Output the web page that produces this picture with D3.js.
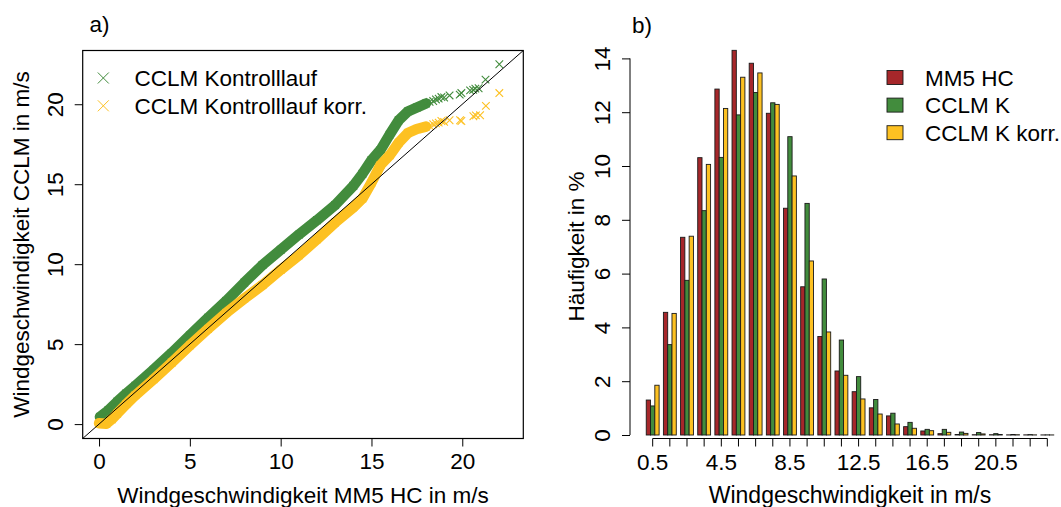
<!DOCTYPE html>
<html>
<head>
<meta charset="utf-8">
<script src="https://cdn.jsdelivr.net/npm/d3@7"></script>
<style>
  html, body { margin: 0; padding: 0; background: #ffffff; }
  svg { display: block; }
  text { font-family: "Liberation Sans", Arial, Helvetica, sans-serif; fill: #000; }
</style>
</head>
<body>
<svg id="chart" width="1061" height="507"></svg>
<script>
// ---------------- Panel a) data : QQ plot ----------------
const qqTicks = [0, 5, 10, 15, 20];
const greenDenseX = [0.05, 0.5, 1.0, 1.5, 2.0, 3.0, 4.0, 5.0, 6.0, 7.0, 8.0, 9.0, 10.0, 11.0, 12.0, 13.0, 14.0, 14.5, 15.0, 15.5, 16.0, 16.5, 17.0, 17.5, 18.0];
const greenDenseY = [0.45, 0.85, 1.4, 1.92, 2.4, 3.4, 4.45, 5.55, 6.65, 7.7, 8.85, 9.95, 10.9, 11.85, 12.75, 13.7, 14.9, 15.65, 16.5, 17.15, 18.1, 19.0, 19.55, 19.8, 20.05];
const greenTailX = [18.2, 18.4, 18.55, 18.7, 18.85, 19.0, 19.3, 19.86, 19.95, 20.43, 20.6, 20.72, 20.9, 21.28, 22.04];
const greenTailY = [20.15, 20.2, 20.3, 20.35, 20.45, 20.42, 20.55, 20.6, 20.7, 20.87, 20.9, 20.98, 21.0, 21.54, 22.5];
const yellowDenseX = [0.0, 0.4, 0.7, 1.0, 1.5, 2.0, 3.0, 4.0, 5.0, 6.0, 7.0, 8.0, 9.0, 10.0, 11.0, 12.0, 13.0, 14.0, 14.5, 15.0, 15.5, 16.0, 16.5, 17.0, 17.5, 18.0];
const yellowDenseY = [0.05, 0.02, 0.3, 0.65, 1.25, 1.8, 2.8, 3.85, 4.92, 5.95, 6.95, 7.85, 8.7, 9.65, 10.55, 11.55, 12.6, 13.55, 14.1, 15.1, 16.2, 16.8, 17.6, 18.2, 18.45, 18.6];
const yellowTailX = [18.2, 18.4, 18.55, 18.7, 18.85, 19.0, 19.3, 19.88, 19.95, 20.61, 20.75, 20.98, 21.3, 22.04];
const yellowTailY = [18.65, 18.75, 18.8, 18.85, 18.95, 18.9, 19.0, 19.0, 18.95, 19.25, 19.3, 19.31, 19.9, 20.7];
const qqLegend = ["CCLM Kontrolllauf", "CCLM Kontrolllauf korr."];

// ---------------- Panel b) data : histogram ----------------
const categories = ["0.5","1.5","2.5","3.5","4.5","5.5","6.5","7.5","8.5","9.5","10.5","11.5","12.5","13.5","14.5","15.5","16.5","17.5","18.5","19.5","20.5","21.5","22.5","23.5"];
const tickLabels = ["0.5", "4.5", "8.5", "12.5", "16.5", "20.5"];
const seriesNames = ["MM5 HC", "CCLM K", "CCLM K korr."];
const mm5 =   [1.30, 4.56, 7.35, 10.31, 12.86, 14.30, 13.82, 11.96, 8.43, 5.51, 3.66, 2.38, 1.61, 1.01, 0.71, 0.31, 0.15, 0.05, 0.02, 0.01, 0.01, 0.005, 0.005, 0.003];
const cclm =  [1.08, 3.36, 5.75, 8.34, 10.32, 11.90, 12.73, 12.35, 11.09, 8.61, 5.80, 3.53, 2.17, 1.32, 0.81, 0.47, 0.21, 0.21, 0.11, 0.09, 0.05, 0.02, 0.015, 0.005];
const cclmK = [1.85, 4.52, 7.39, 10.06, 12.14, 13.30, 13.46, 12.29, 9.63, 6.47, 3.83, 2.22, 1.34, 0.78, 0.41, 0.25, 0.16, 0.10, 0.06, 0.04, 0.02, 0.01, 0.005, 0.003];
const histTicks = [0, 2, 4, 6, 8, 10, 12, 14];

const colRed = "#a6272a", colGreen = "#428c3d", colYellow = "#fdc122";
const FS = "22.5px";

const svg = d3.select("#chart");
svg.append("rect").attr("width", 1061).attr("height", 507).attr("fill", "#fff");

// =============== Panel a ===============
const xL = d3.scaleLinear().domain([-0.9, 23.36]).range([82.7, 523.3]);
const yL = d3.scaleLinear().domain([-0.9, 23.36]).range([438.5, 50.5]);

const gA = svg.append("g");
svg.append("clipPath").attr("id", "clipA").append("rect")
  .attr("x", 82.7).attr("y", 50.5).attr("width", 440.6).attr("height", 388);
const plotA = gA.append("g").attr("clip-path", "url(#clipA)");

function zip(xs, ys) { return xs.map((x, i) => [x, ys[i]]); }
const line = d3.line().x(d => xL(d[0])).y(d => yL(d[1]));
const cross = (s) => `M${-s},${-s}L${s},${s}M${-s},${s}L${s},${-s}`;

function drawSeries(denseX, denseY, tailX, tailY, col) {
  const dense = zip(denseX, denseY);
  const tail = zip(tailX, tailY);
  plotA.append("path").datum(dense).attr("d", line)
    .attr("fill", "none").attr("stroke", col).attr("stroke-width", 10.5)
    .attr("stroke-linejoin", "round").attr("stroke-linecap", "round");
  plotA.append("g").selectAll("path").data(dense.concat(tail)).join("path")
    .attr("transform", d => `translate(${xL(d[0])},${yL(d[1])})`)
    .attr("d", cross(3.8)).attr("stroke", col).attr("stroke-width", 1.1).attr("fill", "none");
}
drawSeries(greenDenseX, greenDenseY, greenTailX, greenTailY, colGreen);
drawSeries(yellowDenseX, yellowDenseY, yellowTailX, yellowTailY, colYellow);

// diagonal y = x
plotA.append("line")
  .attr("x1", xL(-0.9)).attr("y1", yL(-0.9)).attr("x2", xL(23.36)).attr("y2", yL(23.36))
  .attr("stroke", "#000").attr("stroke-width", 1);

// box
gA.append("rect").attr("x", 82.7).attr("y", 50.5).attr("width", 440.6).attr("height", 388)
  .attr("fill", "none").attr("stroke", "#000").attr("stroke-width", 1.2);

// axes
const axXA = gA.append("g").attr("transform", "translate(0,438.5)")
  .call(d3.axisBottom(xL).tickValues(qqTicks).tickSize(8).tickSizeOuter(0).tickFormat(d3.format("d")));
axXA.select(".domain").remove();
axXA.selectAll("text").attr("y", 30.5).attr("dy", null).style("font-size", FS).attr("fill", "#000");

const axYA = gA.append("g").attr("transform", "translate(82.7,0)")
  .call(d3.axisLeft(yL).tickValues(qqTicks).tickSize(8).tickSizeOuter(0).tickFormat(d3.format("d")));
axYA.select(".domain").remove();
axYA.selectAll("text").attr("x", null).attr("dy", null)
  .attr("transform", "translate(-19.5,0) rotate(-90)")
  .attr("text-anchor", "middle").style("font-size", FS).attr("fill", "#000");

gA.append("text").attr("x", 303).attr("y", 503).attr("text-anchor", "middle")
  .style("font-size", FS).text("Windgeschwindigkeit MM5 HC in m/s");
gA.append("text").attr("transform", "translate(28.5,244.5) rotate(-90)").attr("text-anchor", "middle")
  .style("font-size", FS).text("Windgeschwindigkeit CCLM in m/s");
gA.append("text").attr("x", 89.5).attr("y", 32).style("font-size", FS).text("a)");

// legend a
const legA = gA.append("g");
[colGreen, colYellow].forEach((c, i) => {
  const cy = 78 + i * 27.8;
  legA.append("path").attr("transform", `translate(103.3,${cy})`).attr("d", cross(5.5))
    .attr("stroke", c).attr("stroke-width", 1).attr("fill", "none");
  legA.append("text").attr("x", 134.5).attr("y", cy + 8).style("font-size", FS).text(qqLegend[i]);
});

// =============== Panel b ===============
const gB = svg.append("g");
const xB = d3.scaleBand().domain(categories).range([644.1, 1055.9]).paddingInner(0.25).paddingOuter(0.125);
const xInner = d3.scaleBand().domain(seriesNames).range([0, xB.bandwidth()]);
const yB = d3.scaleLinear().domain([0, 14]).range([435, 58.4]);

const seriesVals = [mm5, cclm, cclmK];
const seriesCols = [colRed, colGreen, colYellow];
const rows = [];
categories.forEach((c, i) => {
  seriesNames.forEach((s, j) => rows.push({ c, s, v: seriesVals[j][i], col: seriesCols[j] }));
});
gB.append("g").selectAll("rect").data(rows).join("rect")
  .attr("x", d => xB(d.c) + xInner(d.s))
  .attr("y", d => yB(d.v))
  .attr("width", xInner.bandwidth())
  .attr("height", d => yB(0) - yB(d.v))
  .attr("fill", d => d.col)
  .attr("stroke", "#1a1a1a").attr("stroke-width", 0.9);

// x axis b
const axXB = gB.append("g").attr("transform", "translate(0,438.5)")
  .call(d3.axisBottom(xB).tickSize(8).tickSizeOuter(0).tickFormat(d => tickLabels.includes(d) ? d : ""));
axXB.select(".domain").remove();
axXB.append("line")
  .attr("x1", xB(categories[0]) + xB.bandwidth() / 2)
  .attr("x2", xB(categories[categories.length - 1]) + xB.bandwidth() / 2)
  .attr("stroke", "#000");
axXB.selectAll("text").attr("y", 31.5).attr("dy", null).style("font-size", FS).attr("fill", "#000");

// y axis b
const axYB = gB.append("g").attr("transform", "translate(630,0)")
  .call(d3.axisLeft(yB).tickValues(histTicks).tickSize(8).tickSizeOuter(0));
axYB.select(".domain").remove();
axYB.append("line").attr("y1", yB(0)).attr("y2", yB(14)).attr("stroke", "#000");
axYB.selectAll("text").attr("x", null).attr("dy", null)
  .attr("transform", "translate(-20,0) rotate(-90)")
  .attr("text-anchor", "middle").style("font-size", FS).attr("fill", "#000");

gB.append("text").attr("x", 850).attr("y", 503).attr("text-anchor", "middle")
  .style("font-size", "23px").text("Windgeschwindigkeit in m/s");
gB.append("text").attr("transform", "translate(584,246.5) rotate(-90)").attr("text-anchor", "middle")
  .style("font-size", FS).text("Häufigkeit in %");
gB.append("text").attr("x", 632).attr("y", 33).style("font-size", FS).text("b)");

// legend b
const legB = gB.append("g");
seriesNames.forEach((s, i) => {
  const cy = 77.5 + i * 27.6;
  legB.append("rect").attr("x", 887).attr("y", cy - 7).attr("width", 16).attr("height", 14)
    .attr("fill", seriesCols[i]).attr("stroke", "#1a1a1a").attr("stroke-width", 0.9);
  legB.append("text").attr("x", 925).attr("y", cy + 8).style("font-size", FS).text(s);
});
</script>
</body>
</html>
